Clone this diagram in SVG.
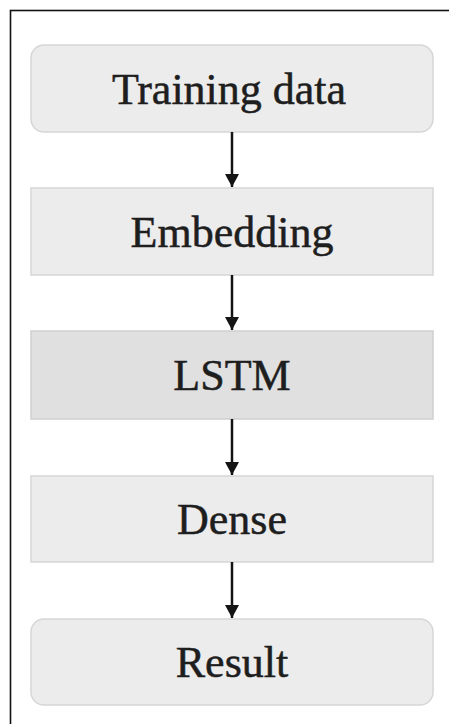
<svg xmlns="http://www.w3.org/2000/svg" width="449" height="724" viewBox="0 0 449 724">
  <defs>
    <marker id="arrowhead" markerWidth="13" markerHeight="14" refX="13" refY="7" orient="auto" markerUnits="userSpaceOnUse">
      <path d="M0,0 L13,7 L0,14 Z" fill="#141414"/>
    </marker>
    <style>
      .box { fill: #ececec; stroke: #d6d6d6; stroke-width: 1.5; }
      .box-dark { fill: #e0e0e0; stroke: #d0d0d0; stroke-width: 1.5; }
      .label { font-family: "Liberation Serif", "Times New Roman", serif; font-size: 44px; fill: #1e1e1e; stroke: #1e1e1e; stroke-width: 0.5; text-anchor: middle; }
      .edge { stroke: #141414; stroke-width: 2.5; fill: none; marker-end: url(#arrowhead); }
    </style>
  </defs>

  <rect width="449" height="724" fill="#ffffff"/>
  <!-- outer frame -->
  <rect x="10.5" y="10.5" width="470" height="740" fill="none" stroke="#111" stroke-width="1.6"/>

  <g id="training-data">
    <rect class="box" x="31" y="45" width="402" height="87" rx="13"/>
    <text class="label" x="229" y="103.5">Training data</text>
  </g>

  <g id="embedding">
    <rect class="box" x="31" y="188" width="402" height="87"/>
    <text class="label" x="232" y="246.5">Embedding</text>
  </g>

  <g id="lstm">
    <rect class="box-dark" x="31" y="331" width="402" height="88"/>
    <text class="label" x="232" y="390">LSTM</text>
  </g>

  <g id="dense">
    <rect class="box" x="31" y="476" width="402" height="86"/>
    <text class="label" x="232" y="534">Dense</text>
  </g>

  <g id="result">
    <rect class="box" x="31" y="619" width="402" height="86" rx="13"/>
    <text class="label" x="232" y="677">Result</text>
  </g>

  <g id="connectors">
    <line class="edge" x1="232" y1="132" x2="232" y2="187"/>
    <line class="edge" x1="232" y1="275" x2="232" y2="330"/>
    <line class="edge" x1="232" y1="419" x2="232" y2="475"/>
    <line class="edge" x1="232" y1="562" x2="232" y2="618"/>
  </g>
</svg>
